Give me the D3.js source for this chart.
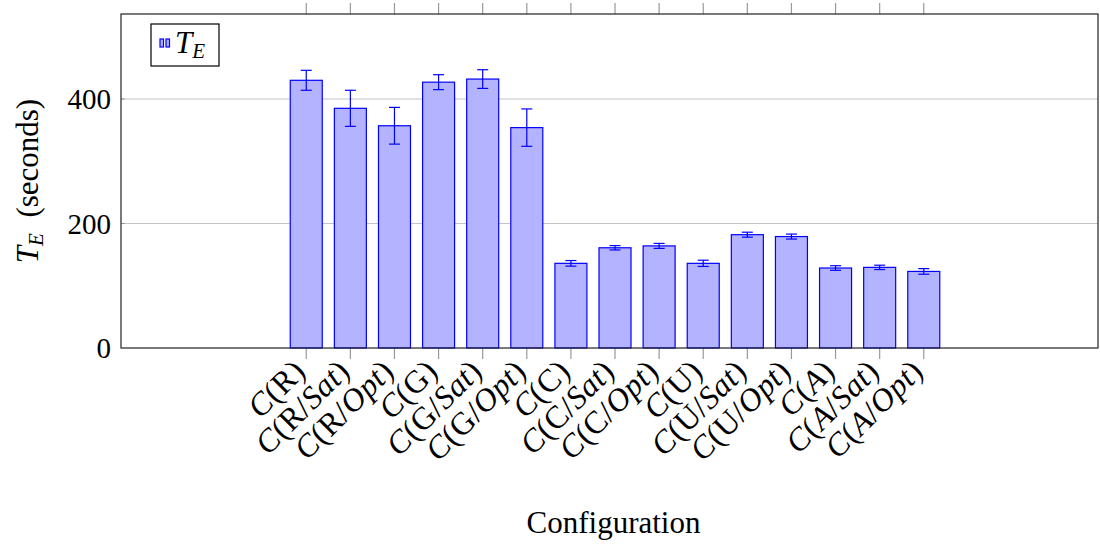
<!DOCTYPE html>
<html>
<head>
<meta charset="utf-8">
<script src="https://cdn.jsdelivr.net/npm/d3@7"></script>
<style>
  body { margin: 0; background: #fff; }
  text { font-family: "Liberation Serif", "Times New Roman", serif; fill: #000; }
</style>
</head>
<body>
<svg class="bar_svg" width="1100" height="544"></svg>
<script>
// values
var categories = ["C(R)", "C(R/Sat)", "C(R/Opt)", "C(G)", "C(G/Sat)", "C(G/Opt)",
                  "C(C)", "C(C/Sat)", "C(C/Opt)", "C(U)", "C(U/Sat)", "C(U/Opt)",
                  "C(A)", "C(A/Sat)", "C(A/Opt)"];
var means  = [430, 385, 357, 427, 432, 354, 136, 161, 164, 136, 182, 179, 128.5, 129.5, 123];
var errors = [16, 29, 29.5, 12, 15, 30, 4.5, 3.5, 4, 5, 4, 4, 3.7, 3.5, 4.5];
var yTicks = [0, 200, 400];

var svg = d3.select(".bar_svg"),
    pLeft = 121, pRight = 1098, pTop = 14, pBottom = 348;

var fontSize = 29;

var x = d3.scaleLinear().domain([-4.2, 17.95]).range([pLeft, pRight]);
var y = d3.scaleLinear().domain([0, 536.5]).range([pBottom, pTop]);

var barW = 32, capW = 11, tickLen = 11;

// grid
svg.append("g").selectAll("line")
    .data(yTicks.filter(function(d) { return d > 0; }))
    .enter().append("line")
    .attr("x1", pLeft).attr("x2", pRight)
    .attr("y1", function(d) { return y(d); })
    .attr("y2", function(d) { return y(d); })
    .attr("stroke", "#c4c4c4").attr("stroke-width", 1);

// y ticks inside
svg.append("g").selectAll("line")
    .data(yTicks.filter(function(d) { return d > 0; }))
    .enter().append("line")
    .attr("x1", pLeft).attr("x2", pLeft + 4)
    .attr("y1", function(d) { return y(d); })
    .attr("y2", function(d) { return y(d); })
    .attr("stroke", "#999").attr("stroke-width", 1);

// x ticks top and bottom (outside)
var idx = d3.range(categories.length);
svg.append("g").selectAll("line")
    .data(idx).enter().append("line")
    .attr("x1", function(d) { return x(d); })
    .attr("x2", function(d) { return x(d); })
    .attr("y1", pBottom).attr("y2", pBottom + tickLen)
    .attr("stroke", "#999").attr("stroke-width", 1.2);
svg.append("g").selectAll("line")
    .data(idx).enter().append("line")
    .attr("x1", function(d) { return x(d); })
    .attr("x2", function(d) { return x(d); })
    .attr("y1", pTop).attr("y2", pTop - tickLen)
    .attr("stroke", "#999").attr("stroke-width", 1.2);

// bars
svg.append("g").selectAll("rect")
    .data(means).enter().append("rect")
    .attr("x", function(d, i) { return x(i) - barW / 2; })
    .attr("y", function(d) { return y(d); })
    .attr("width", barW)
    .attr("height", function(d) { return y(0) - y(d); })
    .attr("fill", "#b3b3ff")
    .attr("stroke", "#0000ff").attr("stroke-width", 1.2);

// error bars
var eb = svg.append("g").attr("stroke", "#0000ff").attr("stroke-width", 1.2)
    .selectAll("g").data(means).enter().append("g");
eb.append("line")
    .attr("x1", function(d, i) { return x(i); })
    .attr("x2", function(d, i) { return x(i); })
    .attr("y1", function(d, i) { return y(d + errors[i]); })
    .attr("y2", function(d, i) { return y(d - errors[i]); });
eb.append("line")
    .attr("x1", function(d, i) { return x(i) - capW / 2; })
    .attr("x2", function(d, i) { return x(i) + capW / 2; })
    .attr("y1", function(d, i) { return y(d + errors[i]); })
    .attr("y2", function(d, i) { return y(d + errors[i]); });
eb.append("line")
    .attr("x1", function(d, i) { return x(i) - capW / 2; })
    .attr("x2", function(d, i) { return x(i) + capW / 2; })
    .attr("y1", function(d, i) { return y(d - errors[i]); })
    .attr("y2", function(d, i) { return y(d - errors[i]); });

// frame
svg.append("rect")
    .attr("x", pLeft).attr("y", pTop)
    .attr("width", pRight - pLeft).attr("height", pBottom - pTop)
    .attr("fill", "none").attr("stroke", "#222").attr("stroke-width", 1.2);

// y tick labels
svg.append("g").selectAll("text")
    .data(yTicks).enter().append("text")
    .attr("x", pLeft - 10)
    .attr("y", function(d) { return y(d); })
    .attr("dy", "0.35em")
    .attr("text-anchor", "end")
    .style("font-size", fontSize + "px")
    .text(function(d) { return d; });

// x tick labels, rotated
var xl = svg.append("g").selectAll("text")
    .data(categories).enter().append("text")
    .attr("transform", function(d, i) { return "translate(" + (x(i) - 7) + "," + (pBottom + 17) + ") rotate(-45)"; })
    .attr("text-anchor", "end")
    .attr("dy", "0.35em")
    .style("font-size", (fontSize + 3) + "px")
    .style("letter-spacing", "0.5px");

xl.each(function(d) {
    var m = d.match(/^C\((\w)(?:\/(\w+))?\)$/);
    var t = d3.select(this);
    t.append("tspan").style("font-style", "italic").text("C");
    t.append("tspan").text("(");
    t.append("tspan").style("font-style", m[1] === "A" ? "italic" : "normal").text(m[1]);
    if (m[2]) {
        t.append("tspan").text("/");
        t.append("tspan").style("font-style", "italic").text(m[2]);
    }
    t.append("tspan").text(")");
});

// axis titles
svg.append("text")
    .attr("x", (pLeft + pRight) / 2 + 4)
    .attr("y", 533)
    .attr("text-anchor", "middle")
    .style("font-size", (fontSize + 2) + "px")
    .text("Configuration");

var yl = svg.append("text")
    .attr("transform", "translate(38," + ((pTop + pBottom) / 2) + ") rotate(-90)")
    .attr("text-anchor", "middle")
    .style("font-size", (fontSize + 2) + "px");
yl.append("tspan").style("font-style", "italic").text("T");
yl.append("tspan").style("font-style", "italic").style("font-size", "21px").attr("dy", 5).text("E");
yl.append("tspan").attr("dy", -5).text("\u2002(seconds)");

// legend
var legend = svg.append("g").attr("transform", "translate(151,24)");
legend.append("rect")
    .attr("width", 68).attr("height", 42)
    .attr("fill", "#fff").attr("stroke", "#000").attr("stroke-width", 1.2);
legend.selectAll(".lbar")
    .data([0, 1]).enter().append("rect")
    .attr("class", "lbar")
    .attr("x", function(d) { return 9 + d * 6; })
    .attr("y", 15)
    .attr("width", 3.5).attr("height", 8)
    .attr("fill", "#b3b3ff").attr("stroke", "#0000ff").attr("stroke-width", 1.2);
var lt = legend.append("text")
    .attr("x", 24).attr("y", 29)
    .style("font-size", (fontSize + 2) + "px");
lt.append("tspan").style("font-style", "italic").text("T");
lt.append("tspan").style("font-style", "italic").style("font-size", "21px").attr("dy", 5).text("E");
</script>
</body>
</html>
